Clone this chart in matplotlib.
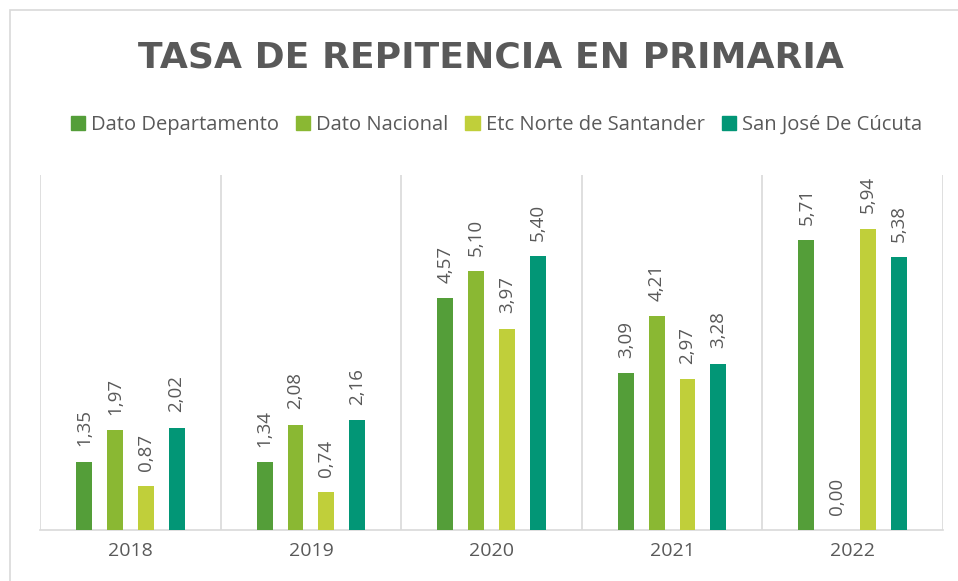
import matplotlib
matplotlib.use("Agg")
import matplotlib.pyplot as plt
from matplotlib.patches import Rectangle
import numpy as np

years = ["2018", "2019", "2020", "2021", "2022"]
series = ["Dato Departamento", "Dato Nacional", "Etc Norte de Santander", "San José De Cúcuta"]
dato_departamento = [1.35, 1.34, 4.57, 3.09, 5.71]
dato_nacional = [1.97, 2.08, 5.10, 4.21, 0.00]
etc_norte = [0.87, 0.74, 3.97, 2.97, 5.94]
san_jose = [2.02, 2.16, 5.40, 3.28, 5.38]
values = [dato_departamento, dato_nacional, etc_norte, san_jose]
colors = ["#549E39", "#8AB833", "#C0CF3A", "#029676"]

plt.rcParams['font.family'] = ['Open Sans', 'DejaVu Sans']
txt = "#595959"

fig = plt.figure(figsize=(9.58, 5.81), dpi=100)
ax = fig.add_axes([40/958, 51/581, 903/958, 355/581])

x = np.arange(len(years))
bw = 0.088
sp = 0.171
for i, (vals, c) in enumerate(zip(values, colors)):
    pos = x + (i - 1.5) * sp
    ax.bar(pos, vals, width=bw, color=c, zorder=3)
    for p, v in zip(pos, vals):
        ax.annotate(f"{v:.2f}".replace(".", ","), (p, v), xytext=(0, 11), textcoords="offset points",
                    rotation=90, ha="center", va="bottom", fontsize=13.5, color=txt)

ax.set_xlim(-0.5, 4.5)
ax.set_ylim(0, 7)
ax.set_yticks([])
ax.set_xticks(x)
ax.set_xticklabels(years, fontsize=14, color=txt)
ax.tick_params(axis="x", length=0, pad=9)
for b in np.arange(-0.5, 5.0, 1.0):
    ax.axvline(b, color="#D9D9D9", lw=1.2, zorder=1)
for s in ["top", "right", "left"]:
    ax.spines[s].set_visible(False)
ax.spines["bottom"].set_color("#D9D9D9")
ax.spines["bottom"].set_linewidth(1.2)

fig.text(491/958, 1 - 58/581, "TASA DE REPITENCIA EN PRIMARIA", ha="center", va="center",
         fontsize=26, fontweight="bold", color=txt, family=["DejaVu Sans"])

handles = [Rectangle((0, 0), 1, 1, color=c) for c in colors]
fig.legend(handles, series, loc="center", bbox_to_anchor=(0.518, 1 - 125/581), ncol=4,
           frameon=False, fontsize=14.5, labelcolor=txt, handlelength=0.7, handleheight=0.7,
           handletextpad=0.3, columnspacing=0.85)

fig.patches.append(Rectangle((10/958, -0.05), 1.0, 1 - 10/581 + 0.05, transform=fig.transFigure,
                             fill=False, edgecolor="#D9D9D9", lw=1.2))

fig.savefig("out.png", dpi=100)
